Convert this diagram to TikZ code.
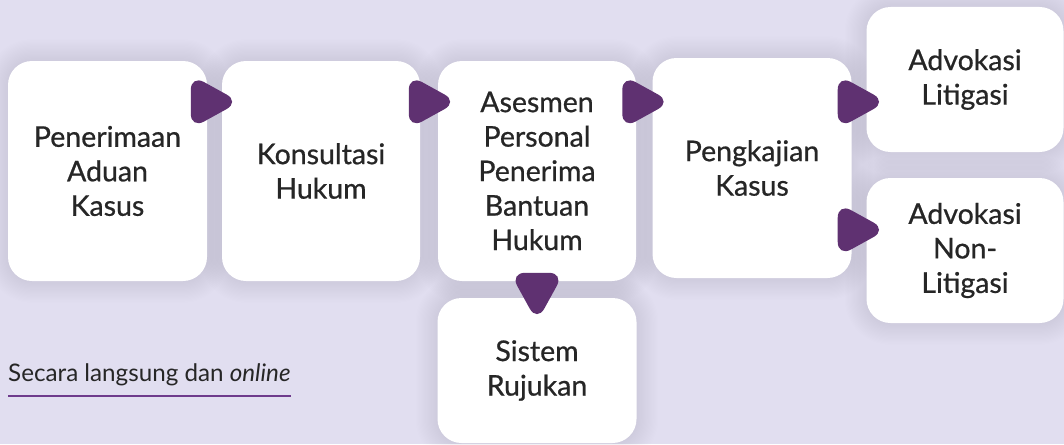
\documentclass[tikz,border=0pt]{standalone}
\usepackage{fontspec}
\setmainfont{Lato}
\newfontfamily\boxfont[FakeBold=0.7]{Lato}
\usetikzlibrary{calc}
\definecolor{bg}{HTML}{E1DEF0}
\definecolor{shd}{HTML}{2E2660}
\definecolor{arr}{HTML}{5F3171}
\definecolor{txt}{HTML}{262626}
\definecolor{uline}{HTML}{6E3B8C}
\pgfdeclarelayer{background}
\pgfsetlayers{background,main}
\newcommand\rtri[1]{\fill[tri] ($#1+(-40,-27)$) -- ($#1+(9,0)$) -- ($#1+(-40,27)$) -- cycle;}
\newcommand\dtri[1]{\fill[tri] ($#1+(-27,-40)$) -- ($#1+(0,9)$) -- ($#1+(27,-40)$) -- cycle;}
\newcommand\softshadow[1]{%
  \begin{pgfonlayer}{background}
  \foreach \k in {1,...,18}{%
    \fill[shd, opacity=0.0055, rounded corners={24pt+1.2*\k pt}]
      ($(#1.north west)+(-1.2*\k,-1.2*\k)$) rectangle ($(#1.south east)+(1.2*\k,1.2*\k)$);}
  \end{pgfonlayer}}
\begin{document}
\begin{tikzpicture}[x=1pt,y=-1pt,
  box/.style={fill=white, rounded corners=24pt, align=center, text=txt,
    font=\boxfont\fontsize{28.5}{34.5}\selectfont, inner sep=0pt},
  tri/.style={fill=arr, rounded corners=15pt}]
\begin{pgfonlayer}{background}
\fill[bg] (0,0) rectangle (1064,444);
\end{pgfonlayer}
\useasboundingbox (0,0) rectangle (1064,444);
% boxes
\node[box, minimum width=199pt, minimum height=220pt] (b1) at (107.5,171) {Penerimaan\\Aduan\\Kasus};
\node[box, minimum width=198pt, minimum height=220pt] (b2) at (321,171) {Konsultasi\\Hukum};
\node[box, minimum width=198pt, minimum height=220pt] (b3) at (537,171) {Asesmen\\Personal\\Penerima\\Bantuan\\Hukum};
\node[box, minimum width=199pt, minimum height=220pt] (b4) at (752,168) {Pengkajian\\Kasus};
\node[box, minimum width=197pt, minimum height=145pt] (b5) at (965,79.5) {Advokasi\\Litigasi};
\node[box, minimum width=197pt, minimum height=145pt] (b6) at (965,250.5) {Advokasi\\Non-\\Litigasi};
\node[box, minimum width=199pt, minimum height=145pt] (b7) at (537,370.5) {Sistem\\Rujukan};
\softshadow{b1}\softshadow{b2}\softshadow{b3}\softshadow{b4}
\softshadow{b5}\softshadow{b6}\softshadow{b7}
% arrow heads
\rtri{(b2.north west)+(9,41)}
\rtri{(b3.north west)+(11,41)}
\rtri{(b4.north west)+(10,44)}
\rtri{(b4.north east)+(26,44)}
\rtri{(b4.north east)+(26,172)}
\dtri{(b7.north)+(0,15)}
% caption
\node[anchor=base west, inner sep=0pt, text=txt, font=\fontsize{24.2}{26}\selectfont] (cap) at (8,381) {Secara langsung dan \textit{online}};
\coordinate (u1) at (8,396);
\coordinate (u2) at (291,396);
\draw[uline, line width=2pt] (u1) -- (u2);
\end{tikzpicture}
\end{document}
